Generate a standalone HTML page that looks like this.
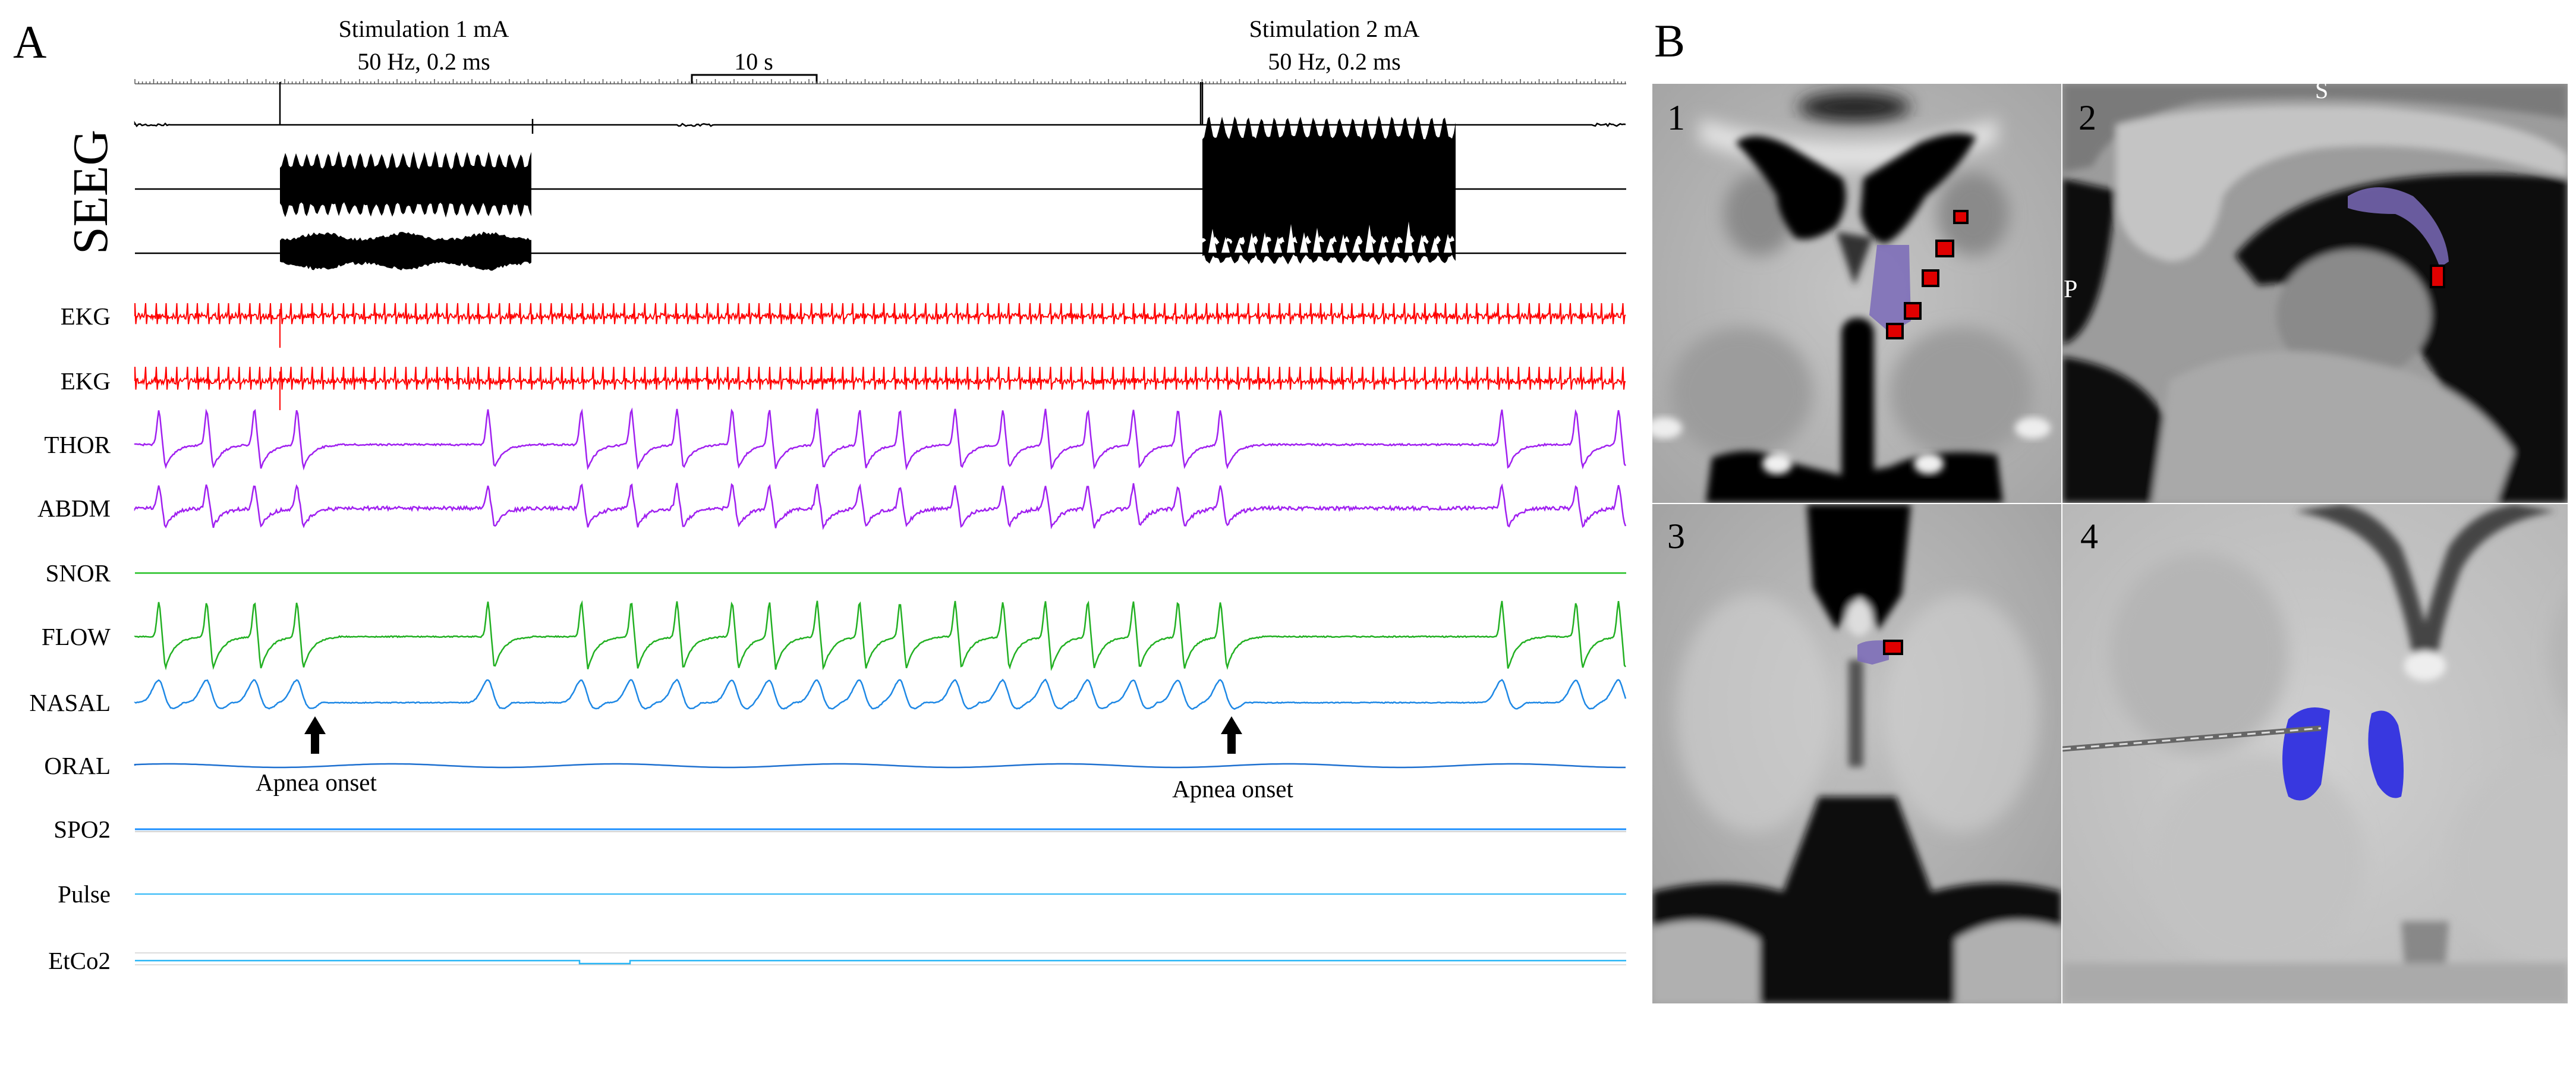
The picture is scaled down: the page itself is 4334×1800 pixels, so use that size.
<!DOCTYPE html>
<html><head><meta charset="utf-8">
<style>
html,body{margin:0;padding:0;background:#fff;}
svg{display:block;}
text{font-family:"Liberation Serif",serif;}
</style></head>
<body>
<svg id="s" width="4334" height="1800" viewBox="0 0 4334 1800" xmlns="http://www.w3.org/2000/svg">
<defs>
<radialGradient id="g1" cx="50%" cy="50%" r="70%"><stop offset="0" stop-color="#c4c4c4"/><stop offset="1" stop-color="#a5a5a5"/></radialGradient>
<radialGradient id="g3" cx="50%" cy="40%" r="70%"><stop offset="0" stop-color="#c2c2c2"/><stop offset="1" stop-color="#a0a0a0"/></radialGradient>
<radialGradient id="g4" cx="50%" cy="50%" r="70%"><stop offset="0" stop-color="#d0d0d0"/><stop offset="1" stop-color="#b8b8b8"/></radialGradient>
<filter id="bl" x="-50%" y="-50%" width="200%" height="200%"><feGaussianBlur stdDeviation="14"/></filter>
<filter id="bl2" x="-20%" y="-20%" width="140%" height="140%"><feGaussianBlur stdDeviation="6"/></filter>
<clipPath id="c1"><rect x="2780" y="141" width="688" height="705"/></clipPath>
<clipPath id="c2"><rect x="3470" y="141" width="850" height="705"/></clipPath>
<clipPath id="c3"><rect x="2780" y="848" width="688" height="840"/></clipPath>
<clipPath id="c4"><rect x="3470" y="848" width="850" height="840"/></clipPath>
</defs>
<rect width="4334" height="1800" fill="#fff"/>
<text x="22" y="97" font-size="78">A</text>
<text x="2783" y="95" font-size="78">B</text>

<text x="713" y="62" font-size="40" text-anchor="middle">Stimulation 1 mA</text>
<text x="713" y="117" font-size="40" text-anchor="middle">50 Hz, 0.2 ms</text>
<text x="2245" y="62" font-size="40" text-anchor="middle">Stimulation 2 mA</text>
<text x="2245" y="117" font-size="40" text-anchor="middle">50 Hz, 0.2 ms</text>
<text x="1268" y="117" font-size="40" text-anchor="middle">10 s</text>
<path d="M1164 141 V126 H1374 V141" fill="none" stroke="#000" stroke-width="3"/>
<g id="ruler"></g>
<text transform="translate(180,428) rotate(-90)" font-size="84">SEEG</text>

<g id="waves"></g>

<g font-size="41" text-anchor="end">
<text x="186" y="546">EKG</text>
<text x="186" y="655">EKG</text>
<text x="186" y="762">THOR</text>
<text x="186" y="869">ABDM</text>
<text x="186" y="978">SNOR</text>
<text x="186" y="1085">FLOW</text>
<text x="186" y="1196">NASAL</text>
<text x="186" y="1302">ORAL</text>
<text x="186" y="1409">SPO2</text>
<text x="186" y="1518">Pulse</text>
<text x="186" y="1630">EtCo2</text>
</g>
<path d="M523 1268 V1235 H512 L530 1205 L548 1235 H537 V1268 Z" fill="#000"/>
<path d="M2065 1268 V1235 H2054 L2072 1205 L2090 1235 H2079 V1268 Z" fill="#000"/>
<text x="532" y="1330" font-size="41" text-anchor="middle">Apnea onset</text>
<text x="2074" y="1341" font-size="41" text-anchor="middle">Apnea onset</text>

<!-- Panel 1 -->
<g clip-path="url(#c1)">
<rect x="2780" y="141" width="688" height="705" fill="url(#g1)"/>
<g filter="url(#bl)">
<ellipse cx="3120" cy="180" rx="95" ry="25" fill="#222"/>
<path d="M2860 240 Q3120 330 3360 240 L3360 200 Q3120 280 2860 200 Z" fill="#e2e2e2"/>
<ellipse cx="2930" cy="660" rx="120" ry="110" fill="#9c9c9c"/>
<ellipse cx="3300" cy="660" rx="120" ry="110" fill="#9c9c9c"/>
<ellipse cx="2960" cy="360" rx="60" ry="70" fill="#8a8a8a"/>
<ellipse cx="3320" cy="360" rx="60" ry="70" fill="#8a8a8a"/>
</g>
<g filter="url(#bl2)">
<path d="M2920 240 Q2950 215 3010 245 L3100 300 Q3115 340 3090 380 Q3050 410 3020 400 Q2990 360 2990 330 Q2960 280 2920 240 Z" fill="#050505"/>
<path d="M3135 300 L3230 240 Q3290 215 3325 230 Q3300 280 3240 330 Q3200 400 3170 410 Q3140 400 3130 360 Z" fill="#050505"/>
<path d="M3090 390 L3120 480 L3150 400 Z" fill="#333"/>
<rect x="3098" y="535" width="55" height="290" rx="25" fill="#000"/>
<path d="M2880 770 Q2950 745 3000 775 L3100 800 L3180 785 Q3250 750 3360 765 L3370 846 L2870 846 Z" fill="#050505"/>
</g>
<ellipse cx="2800" cy="720" rx="30" ry="18" fill="#eee" filter="url(#bl2)"/>
<ellipse cx="3420" cy="720" rx="30" ry="18" fill="#eee" filter="url(#bl2)"/>
<ellipse cx="2990" cy="780" rx="25" ry="18" fill="#f0f0f0" filter="url(#bl2)"/>
<ellipse cx="3245" cy="780" rx="25" ry="18" fill="#f0f0f0" filter="url(#bl2)"/>
<path d="M3158 412 L3212 412 L3215 540 L3180 560 L3145 530 Z" fill="#7a6ab8" opacity="0.85"/>
<g fill="#e00000" stroke="#000" stroke-width="4">
<rect x="3288" y="355" width="22" height="20"/>
<rect x="3258" y="405" width="28" height="26"/>
<rect x="3235" y="455" width="26" height="26"/>
<rect x="3205" y="510" width="26" height="26"/>
<rect x="3175" y="545" width="26" height="24"/>
</g>
</g>
<text x="2805" y="218" font-size="60">1</text>

<!-- Panel 2 -->
<g clip-path="url(#c2)">
<rect x="3470" y="141" width="850" height="705" fill="#9c9c9c"/>
<g filter="url(#bl2)">
<path d="M3470 141 H4320 V200 Q4000 150 3700 170 Q3560 200 3520 280 L3470 290 Z" fill="#7a7a7a"/>
<path d="M3470 300 L3560 320 Q3540 560 3470 580 Z" fill="#111"/>
<path d="M3470 600 Q3600 620 3640 700 L3620 846 L3470 846 Z" fill="#111"/>
<path d="M3760 430 Q3900 260 4320 300 L4320 846 L4200 846 Q4150 700 4050 560 Q3950 460 3800 480 Z" fill="#0a0a0a"/>
<path d="M3560 210 Q3700 170 4000 180 Q4250 200 4320 260 L4320 300 Q4100 230 3900 250 Q3780 270 3740 330 Q3720 440 3650 440 Q3560 420 3560 320 Z" fill="#c4c4c4"/>
<ellipse cx="3960" cy="530" rx="130" ry="110" fill="#8a8a8a"/>
<path d="M3650 640 Q3800 560 3990 610 Q4150 640 4230 760 L4200 846 L3620 846 Z" fill="#a9a9a9"/>
</g>
<path d="M3950 330 Q4000 300 4060 330 Q4115 380 4120 440 L4105 450 Q4080 380 4030 360 Q3980 360 3950 350 Z" fill="#7a6ab8" opacity="0.85"/>
<rect x="4090" y="447" width="22" height="36" fill="#e00000" stroke="#000" stroke-width="4"/>
<text x="3895" y="165" font-size="40" fill="#fff" font-family="Liberation Sans,sans-serif">S</text>
<text x="3472" y="500" font-size="42" fill="#fff" font-family="Liberation Sans,sans-serif">P</text>
</g>
<text x="3497" y="218" font-size="60">2</text>

<!-- Panel 3 -->
<g clip-path="url(#c3)">
<rect x="2780" y="848" width="688" height="840" fill="url(#g3)"/>
<g filter="url(#bl)">
<ellipse cx="2950" cy="1200" rx="130" ry="200" fill="#d0d0d0" opacity="0.6"/>
<ellipse cx="3300" cy="1200" rx="130" ry="200" fill="#d0d0d0" opacity="0.6"/>
</g>
<g filter="url(#bl2)">
<path d="M3040 848 L3215 848 L3200 1000 L3160 1060 L3130 1000 L3090 1060 L3050 990 Z" fill="#050505"/>
<ellipse cx="3128" cy="1040" rx="22" ry="30" fill="#ddd"/>
<path d="M3110 1110 L3135 1110 L3135 1290 L3110 1290 Z" fill="#555"/>
<path d="M2780 1500 Q2900 1470 3000 1500 L3060 1340 L3190 1340 L3250 1500 Q3360 1470 3468 1500 L3468 1688 L2780 1688 Z" fill="#080808"/>
<path d="M2780 1560 Q2880 1530 2960 1580 L2960 1688 L2780 1688 Z" fill="#b0b0b0"/>
<path d="M3468 1560 Q3370 1530 3290 1580 L3290 1688 L3468 1688 Z" fill="#b0b0b0"/>
</g>
<path d="M3125 1085 Q3140 1075 3178 1078 L3178 1110 L3150 1118 L3125 1112 Z" fill="#7a6ab8" opacity="0.85"/>
<rect x="3170" y="1078" width="30" height="22" fill="#e00000" stroke="#000" stroke-width="4"/>
</g>
<text x="2805" y="922" font-size="60">3</text>

<!-- Panel 4 -->
<g clip-path="url(#c4)">
<rect x="3470" y="848" width="850" height="840" fill="url(#g4)"/>
<g filter="url(#bl)">
<ellipse cx="3700" cy="1100" rx="150" ry="170" fill="#b5b5b5"/>
<ellipse cx="4440" cy="1100" rx="150" ry="170" fill="#b5b5b5"/>
<ellipse cx="3800" cy="1450" rx="180" ry="180" fill="#c2c2c2"/>
<ellipse cx="4300" cy="1450" rx="180" ry="180" fill="#c2c2c2"/>
</g>
<g filter="url(#bl2)">
<path d="M3860 860 Q3980 880 4020 960 Q4050 1040 4060 1110 L4095 1110 Q4070 1000 4040 920 Q4000 860 3940 848 Z" fill="#444"/>
<path d="M4300 860 Q4180 880 4140 960 Q4110 1040 4100 1110 L4065 1110 Q4090 1000 4120 920 Q4160 860 4230 848 Z" fill="#444"/>
<ellipse cx="4080" cy="1120" rx="35" ry="25" fill="#eee"/>
<path d="M4040 1550 L4120 1550 L4110 1688 L4050 1688 Z" fill="#888"/>
<rect x="3470" y="1620" width="850" height="68" fill="#aaa"/>
</g>
<path d="M3850 1210 Q3880 1180 3920 1195 Q3910 1290 3905 1320 Q3880 1360 3850 1340 Q3830 1280 3850 1210 Z" fill="#3838e0"/>
<path d="M3990 1200 Q4020 1185 4035 1220 Q4050 1290 4040 1340 Q4020 1350 4000 1320 Q3975 1260 3990 1200 Z" fill="#3838e0"/>
<path d="M3470 1260 L3905 1225" stroke="#666" stroke-width="9"/>
<path d="M3470 1260 L3905 1225" stroke="#ddd" stroke-width="3" stroke-dasharray="14 10"/>
</g>
<text x="3500" y="922" font-size="60">4</text>
</svg>
<script>
(function(){
var NS="http://www.w3.org/2000/svg";
var W=document.getElementById('waves'), R=document.getElementById('ruler');
var seed=7;function rnd(){seed=(seed*16807)%2147483647;return seed/2147483647;}
function path(d,col,w,parent,fill){var p=document.createElementNS(NS,'path');p.setAttribute('d',d);p.setAttribute('fill',fill||'none');if(col){p.setAttribute('stroke',col);p.setAttribute('stroke-width',w);}(parent||W).appendChild(p);}
var X0=227,X1=2736;
var d='M'+X0+' 141 H'+X1;
for(var x=X0;x<=X1;x+=6.3){d+=' M'+x.toFixed(1)+' 141 V'+(Math.round((x-X0)/6.3)%5==0?133:137);}
path(d,'#555',1.5,R);
d='M'+X0+' 210';
for(x=X0;x<=X1;x+=3){var y=210;if((x<285)||(x>1140&&x<1200)||(x>2680))y=210+ (rnd()-0.5)*5;d+=' L'+x+' '+y.toFixed(1);}
path(d,'#000',2.5);
path('M471 210 V138 M2020 210 V138 M896 200 V225 M2023 210 V138','#000',2.5);
path('M227 318 H2736 M227 426 H2736','#000',2.5);
function burst(x0,x1,yt,yb,at,ab,per){var top=[],bot=[];for(var x=x0;x<=x1;x+=3){var pk=Math.pow(Math.abs(Math.sin((x-x0)/per*Math.PI)),3);top.push(x+' '+(yt-at*pk-(rnd()*6)).toFixed(1));bot.push(x+' '+(yb+ab*pk+(rnd()*6)).toFixed(1));}
path('M'+top.join(' L')+' L'+bot.reverse().join(' L')+' Z',null,0,null,'#000');}
burst(471,896,285,340,25,20,18);
burst(471,896,405,440,10,10,140);
burst(2023,2450,235,396,35,18,22);
burst(2023,2450,412,428,6,12,22);
for(x=2040;x<2440;x+=22){path('M'+(x-7)+' 425 L'+x+' '+(370+rnd()*35)+' L'+(x+7)+' 425 Z',null,0,null,'#fff');}
function ekg(y0,amp){var d='M'+X0+' '+y0;for(var x=X0;x<=X1;x+=1.5){var ph=((x-X0)%17.5);var y=y0+(rnd()-0.5)*10;if(ph<1.5)y=y0-amp;else if(ph<3)y=y0+amp*0.6;d+=' L'+x.toFixed(1)+' '+y.toFixed(1);}path(d,'#f00',2);}
ekg(532,22);ekg(641,24);
path('M471 520 V585 M471 625 V690','#f00',2);
var br=[150,195,240,280,460,548,595,638,690,725,770,810,848,900,945,985,1025,1068,1110,1150,1415,1485,1525].map(function(v){return v*1.786;});
function resp(y0,up,dn,col,noise,shape){var d='M'+X0+' '+y0;for(var x=X0;x<=X1;x+=2){var y=y0+(rnd()-0.5)*noise;for(var i=0;i<br.length;i++){var t=x-br[i];y+=shape(t,up,dn);}d+=' L'+x+' '+y.toFixed(1);}path(d,col,2.5);}
function sh1(t,up,dn){if(t<-12||t>70)return 0;if(t<0)return -up*Math.exp(-Math.pow(t/5,2));if(t<10)return -up*(1-t/10)+dn*(t/10);return dn*Math.exp(-(t-10)/15);}
resp(748,60,40,'#a020f0',3,sh1);
resp(855,40,32,'#a020f0',6,sh1);
path('M227 964 H2736','#22c022',2.5);
resp(1071,60,55,'#22b022',2,sh1);
function sh2(t,up,dn){if(t<-40||t>50)return 0;if(t<0)return -up*Math.exp(-Math.pow(t/16,2));return -up*Math.exp(-Math.pow(t/12,2))+dn*Math.sin(Math.min(t,40)/40*Math.PI)*0.8;}
resp(1182,38,14,'#1e88e5',1.5,sh2);
d='M'+X0+' 1288';for(x=X0;x<=X1;x+=6){d+=' L'+x+' '+(1288+Math.sin(x/60)*3).toFixed(1);}path(d,'#1e70d0',2.5);
path('M227 1395 H2736','#1e90ff',3);path('M227 1399 H2736','#aaa',1);
path('M227 1504 H2736','#29b6f6',2);
path('M227 1603 H2736 M227 1623 H2736','#bbb',1);
path('M227 1616 H975 V1621 H1060 V1616 H2736','#29b6f6',2.5);
})();
</script>
</body></html>
